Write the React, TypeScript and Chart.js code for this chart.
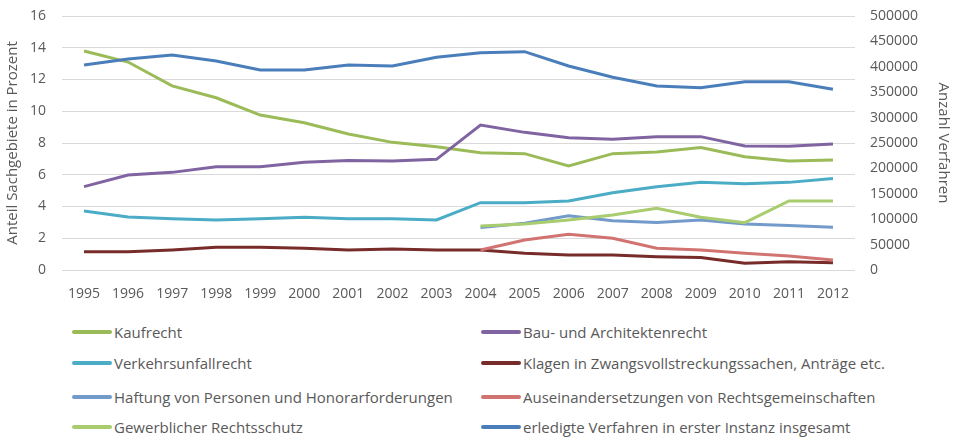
import React, { useEffect, useRef } from "react";
import { Chart, registerables } from "chart.js";

Chart.register(...registerables);

const years = ["1995","1996","1997","1998","1999","2000","2001","2002","2003","2004","2005","2006","2007","2008","2009","2010","2011","2012"];

const kaufrecht = [13.8, 13.1, 11.6, 10.85, 9.76, 9.28, 8.57, 8.04, 7.77, 7.39, 7.33, 6.55, 7.33, 7.43, 7.71, 7.14, 6.87, 6.93];
const bauArchitekten = [5.25, 5.98, 6.15, 6.51, 6.51, 6.78, 6.89, 6.87, 6.97, 9.13, 8.67, 8.33, 8.23, 8.4, 8.4, 7.81, 7.8, 7.94];
const verkehrsunfall = [3.72, 3.34, 3.23, 3.15, 3.23, 3.32, 3.23, 3.23, 3.15, 4.24, 4.24, 4.35, 4.87, 5.25, 5.52, 5.44, 5.52, 5.77];
const klagenZwangsvollstreckung = [1.15, 1.15, 1.26, 1.43, 1.43, 1.37, 1.26, 1.32, 1.26, 1.26, 1.05, 0.94, 0.94, 0.84, 0.78, 0.42, 0.52, 0.46];
const haftungPersonen = [null, null, null, null, null, null, null, null, null, 2.67, 2.94, 3.42, 3.11, 3.0, 3.15, 2.9, 2.81, 2.69];
const auseinandersetzungen = [null, null, null, null, null, null, null, null, null, 1.26, 1.89, 2.25, 2.0, 1.37, 1.26, 1.05, 0.88, 0.63];
const gewerblicherRechtsschutz = [null, null, null, null, null, null, null, null, null, 2.77, 2.9, 3.15, 3.46, 3.89, 3.32, 2.98, 4.35, 4.35];
const erledigteVerfahren = [403500, 415400, 423200, 411400, 393700, 393700, 403500, 401600, 418600, 427800, 429800, 401600, 379300, 362200, 358900, 370700, 370700, 355700];

const leftTicks = [0, 2, 4, 6, 8, 10, 12, 14, 16];
const rightTicks = [0, 50000, 100000, 150000, 200000, 250000, 300000, 350000, 400000, 450000, 500000];

const seriesNames = [
  "Kaufrecht",
  "Bau- und Architektenrecht",
  "Verkehrsunfallrecht",
  "Klagen in Zwangsvollstreckungssachen, Anträge etc.",
  "Haftung von Personen und Honorarforderungen",
  "Auseinandersetzungen von Rechtsgemeinschaften",
  "Gewerblicher Rechtsschutz",
  "erledigte Verfahren in erster Instanz insgesamt",
];
const seriesColors = ["#9BBB59", "#8064A2", "#4BACC6", "#772C2A", "#729ACA", "#D07371", "#A9CC6E", "#4A7EBB"];
const seriesData = [kaufrecht, bauArchitekten, verkehrsunfall, klagenZwangsvollstreckung, haftungPersonen, auseinandersetzungen, gewerblicherRechtsschutz, erledigteVerfahren];
const seriesAxis = ["y", "y", "y", "y", "y", "y", "y", "y1"];

const FONT = "'Open Sans', sans-serif";
const TEXT = "#595959";

export default function App() {
  const ref = useRef<HTMLCanvasElement>(null);
  useEffect(() => {
    document.body.style.margin = "0";
    const ctx = ref.current!;
    const chart = new Chart(ctx, {
      type: "line",
      data: {
        labels: years,
        datasets: seriesNames.map((name, i) => ({
          label: name,
          data: seriesData[i] as any,
          borderColor: seriesColors[i],
          backgroundColor: seriesColors[i],
          borderWidth: 3,
          pointRadius: 0,
          pointHoverRadius: 0,
          tension: 0,
          fill: false,
          spanGaps: false,
          yAxisID: seriesAxis[i],
          order: seriesNames.length - i,
        })),
      },
      options: {
        animation: false,
        responsive: false,
        maintainAspectRatio: false,
        layout: { padding: { top: 16, left: 0, right: 0, bottom: 0 } },
        plugins: { legend: { display: false }, tooltip: { enabled: false } },
        scales: {
          x: {
            type: "category",
            offset: true,
            grid: { display: false, drawTicks: false },
            border: { display: false },
            ticks: { color: TEXT, font: { family: FONT, size: 14 }, padding: 16, maxRotation: 0, autoSkip: false },
            afterFit: (s: any) => { s.height = 40; s.paddingLeft = 0; s.paddingRight = 0; },
          },
          y: {
            type: "linear",
            position: "left",
            min: 0,
            max: 16,
            afterBuildTicks: (s: any) => { s.ticks = leftTicks.map((v) => ({ value: v })); },
            grid: { color: "#D9D9D9", lineWidth: 1, drawTicks: false },
            border: { display: false },
            ticks: { color: TEXT, font: { family: FONT, size: 14 }, padding: 16 },
            title: { display: true, text: "Anteil Sachgebiete in Prozent", color: TEXT, font: { family: FONT, size: 15 }, padding: { top: 4, bottom: 0 } },
            afterFit: (s: any) => { s.width = 62; s.paddingTop = 0; s.paddingBottom = 0; },
          },
          y1: {
            type: "linear",
            position: "right",
            min: 0,
            max: 500000,
            afterBuildTicks: (s: any) => { s.ticks = rightTicks.map((v) => ({ value: v })); },
            grid: { display: false, drawTicks: false },
            border: { display: false },
            ticks: { color: TEXT, font: { family: FONT, size: 14 }, padding: 15, callback: (v: any) => String(v) },
            title: { display: true, text: "Anzahl Verfahren", color: TEXT, font: { family: FONT, size: 15 }, padding: { top: 8, bottom: 0 } },
            afterFit: (s: any) => { s.width = 105; s.paddingTop = 0; s.paddingBottom = 0; },
          },
        },
      } as any,
    });
    return () => chart.destroy();
  }, []);

  const rows = [332, 363, 397, 427];
  const colLine = [72, 481];
  const colText = [114, 523];

  return (
    <div style={{ position: "relative", width: 960, height: 438, background: "#fff", overflow: "hidden" }}>
      <canvas ref={ref} width={960} height={310} style={{ position: "absolute", left: 0, top: 0, width: 960, height: 310 }} />
      {seriesNames.map((name, i) => {
        const col = i % 2;
        const row = Math.floor(i / 2);
        const y = rows[row];
        return (
          <div key={name}>
            <div style={{ position: "absolute", left: colLine[col], top: y - 2, width: 40, height: 4, background: seriesColors[i], borderRadius: 2 }} />
            <div style={{ position: "absolute", left: colText[col], top: y - 11, height: 22, lineHeight: "22px", fontFamily: FONT, fontSize: 15, color: TEXT, whiteSpace: "nowrap" }}>{name}</div>
          </div>
        );
      })}
    </div>
  );
}
